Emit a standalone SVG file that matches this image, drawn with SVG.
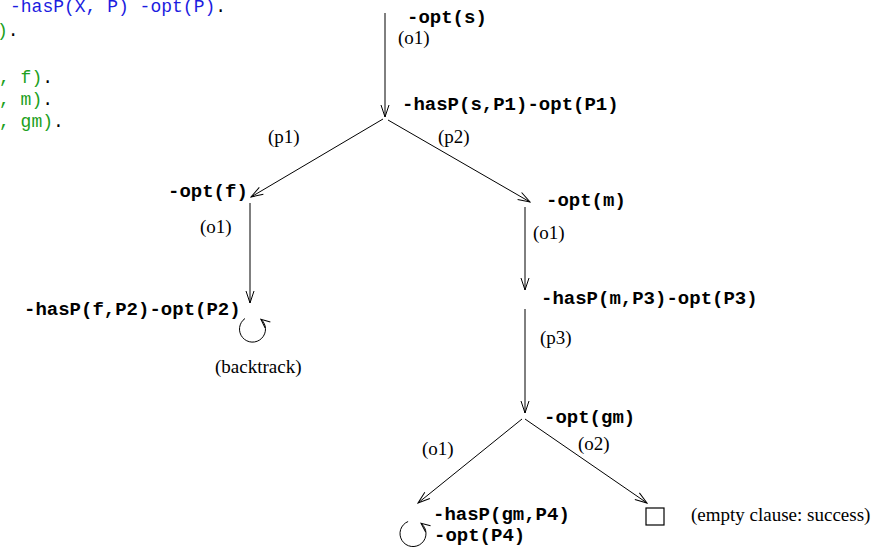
<svg xmlns="http://www.w3.org/2000/svg" width="887" height="548" viewBox="0 0 887 548">
<style>
.c{font-family:"Liberation Mono","DejaVu Sans Mono",monospace;font-weight:bold;font-size:19px;fill:#000}
.l{font-family:"Liberation Serif","DejaVu Serif",serif;font-size:19px;fill:#000}
.code{font-family:"Liberation Mono","DejaVu Sans Mono",monospace;font-size:18px}
.b{fill:#1c1ce0}.g{fill:#20a020}.k{fill:#000}
.e{stroke:#000;stroke-width:1;fill:none}
</style>
<defs>
<marker id="a" viewBox="-13 -5 14 10" refX="0" refY="0" markerWidth="14" markerHeight="10" markerUnits="userSpaceOnUse" orient="auto"><path d="M-12,-4 L0,0 L-12,4" fill="none" stroke="#000" stroke-width="1"/></marker>
<marker id="s" viewBox="-11 -6 12 12" refX="0" refY="0" markerWidth="12" markerHeight="12" markerUnits="userSpaceOnUse" orient="auto"><path d="M-9,-4 L0,0 L-9,4" fill="none" stroke="#000" stroke-width="1"/></marker>
</defs>
<g id="code">
<text class="code" x="10" y="12"><tspan class="b">-hasP(X, P) -opt(P)</tspan><tspan class="k">.</tspan></text>
<text class="code" x="-3" y="36"><tspan class="g">)</tspan><tspan class="k">.</tspan></text>
<text class="code" x="-1" y="83"><tspan class="g">, f)</tspan><tspan class="k">.</tspan></text>
<text class="code" x="-1" y="105"><tspan class="g">, m)</tspan><tspan class="k">.</tspan></text>
<text class="code" x="-1" y="127"><tspan class="g">, gm)</tspan><tspan class="k">.</tspan></text>
</g>
<g id="connectors" class="e">
<line x1="385" y1="13" x2="385" y2="117" marker-end="url(#a)"/>
<line x1="383" y1="119" x2="251" y2="197" marker-end="url(#a)"/>
<line x1="388" y1="120" x2="530" y2="202" marker-end="url(#a)"/>
<line x1="250" y1="203" x2="250" y2="303" marker-end="url(#a)"/>
<line x1="525" y1="207" x2="525" y2="290" marker-end="url(#a)"/>
<line x1="525" y1="309" x2="525" y2="413" marker-end="url(#a)"/>
<line x1="522" y1="419" x2="418" y2="503" marker-end="url(#a)"/>
<line x1="525" y1="419" x2="647" y2="503" marker-end="url(#a)"/>
</g>
<g id="edge-labels">
<text class="l" x="398" y="44">(o1)</text>
<text class="l" x="268" y="143">(p1)</text>
<text class="l" x="438" y="143">(p2)</text>
<text class="l" x="200" y="233">(o1)</text>
<text class="l" x="533" y="239">(o1)</text>
<text class="l" x="540" y="344">(p3)</text>
<text class="l" x="422" y="455">(o1)</text>
<text class="l" x="578" y="450">(o2)</text>
</g>
<g id="n-opt-s"><text class="c" x="407" y="23">-opt(s)</text></g>
<g id="n-hasP-s"><text class="c" x="402" y="110">-hasP(s,P1)-opt(P1)</text></g>
<g id="n-opt-f"><text class="c" x="168" y="197">-opt(f)</text></g>
<g id="n-hasP-f">
<text class="c" x="24" y="315">-hasP(f,P2)-opt(P2)</text>
<path class="e" d="M245,318.5 A13,13 0 1 0 260.9,319.2" marker-end="url(#s)"/>
<text class="l" x="215" y="373">(backtrack)</text>
</g>
<g id="n-opt-m"><text class="c" x="546" y="206">-opt(m)</text></g>
<g id="n-hasP-m"><text class="c" x="541" y="304">-hasP(m,P3)-opt(P3)</text></g>
<g id="n-opt-gm"><text class="c" x="544" y="423">-opt(gm)</text></g>
<g id="n-hasP-gm">
<text class="c" x="433" y="520">-hasP(gm,P4)</text>
<text class="c" x="434" y="541">-opt(P4)</text>
<path class="e" d="M408.13,521.5 A13,13 0 1 0 421,523.3" marker-end="url(#s)"/>
</g>
<g id="n-empty">
<rect x="646" y="508" width="18" height="17" fill="none" stroke="#000" stroke-width="1.2"/>
<text class="l" x="691" y="521">(empty clause: success)</text>
</g>
</svg>
